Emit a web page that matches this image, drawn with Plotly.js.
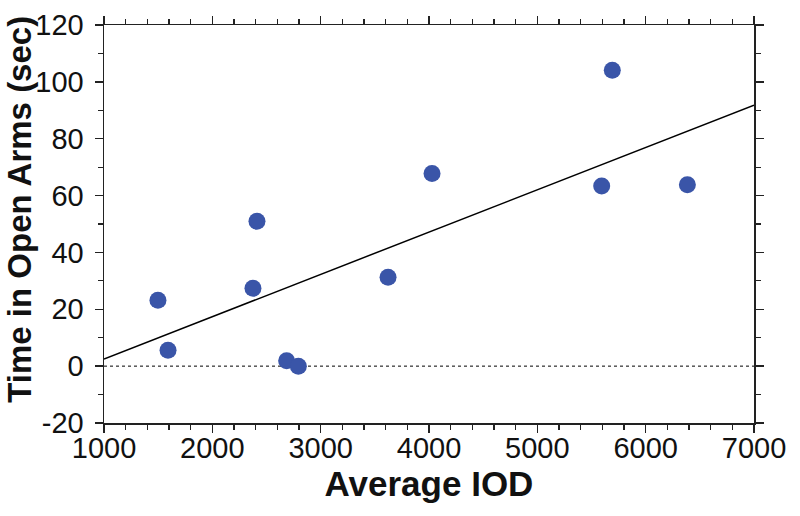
<!DOCTYPE html>
<html>
<head>
<meta charset="utf-8">
<script src="https://cdn.plot.ly/plotly-3.0.1.min.js"></script>
<style>
html,body{margin:0;padding:0;background:#fff;}
#chart{width:800px;height:516px;}
</style>
</head>
<body>
<div id="chart"></div>
<script>
// Data
const averageIOD = [1498, 1591, 2375, 2412, 2686, 2794, 3622, 4028, 5594, 5692, 6385];
const timeOpenArms = [23.2, 5.6, 27.4, 51.0, 1.9, 0.0, 31.3, 67.8, 63.4, 104.1, 63.8];

const xRange = [1000, 7000];
const yRange = [-20, 120];
const xTickVals = [1000, 2000, 3000, 4000, 5000, 6000, 7000];
const xTickText = ['1000', '2000', '3000', '4000', '5000', '6000', '7000'];
const yTickVals = [-20, 0, 20, 40, 60, 80, 100, 120];
const yTickText = ['-20', '0', '20', '40', '60', '80', '100', '120'];

// least-squares regression line
const n = averageIOD.length;
const mx = averageIOD.reduce((a, b) => a + b, 0) / n;
const my = timeOpenArms.reduce((a, b) => a + b, 0) / n;
let sxy = 0, sxx = 0;
for (let i = 0; i < n; i++) {
  sxy += (averageIOD[i] - mx) * (timeOpenArms[i] - my);
  sxx += (averageIOD[i] - mx) ** 2;
}
const slope = sxy / sxx;
const intercept = my - slope * mx;
const fitX = xRange.slice();
const fitY = fitX.map(x => intercept + slope * x);

const tickFont = {family: '"Liberation Sans", Arial, sans-serif', size: 29, color: '#111'};

const traces = [
  {x: fitX, y: fitY, type: 'scatter', mode: 'lines', line: {color: '#000', width: 1.5}, hoverinfo: 'skip', showlegend: false},
  {x: averageIOD, y: timeOpenArms, type: 'scatter', mode: 'markers',
   marker: {color: '#3a55a8', size: 17, line: {width: 0}}, showlegend: false}
];

const axisCommon = {
  showgrid: false, zeroline: false, showline: true, linecolor: '#222', linewidth: 1.5,
  mirror: 'ticks', ticks: 'outside', ticklen: 8, tickwidth: 1.5, tickcolor: '#222',
  tickfont: tickFont, fixedrange: true
};

const layout = {
  width: 800, height: 516,
  margin: {l: 104, r: 46, t: 25, b: 93},
  paper_bgcolor: '#fff', plot_bgcolor: '#fff',
  showlegend: false,
  xaxis: Object.assign({}, axisCommon, {
    range: xRange, tickmode: 'array', tickvals: xTickVals, ticktext: xTickText,
    minor: {dtick: 200, ticklen: 5, tickwidth: 1.2, tickcolor: '#222', ticks: 'outside', showgrid: false},
    ticklabelstandoff: -9,
    title: {text: 'Average IOD', font: {family: '"Liberation Sans", Arial, sans-serif', size: 35, weight: 'bold', color: '#111'}, standoff: 8}
  }),
  yaxis: Object.assign({}, axisCommon, {
    range: yRange, tickmode: 'array', tickvals: yTickVals, ticktext: yTickText,
    minor: {dtick: 10, ticklen: 5, tickwidth: 1.2, tickcolor: '#222', ticks: 'outside', showgrid: false},
    ticklabelstandoff: 5,
    title: {text: ''}
  }),
  shapes: [
    {type: 'line', xref: 'paper', x0: 0, x1: 1, yref: 'y', y0: 0, y1: 0, line: {color: '#000', width: 1, dash: 'dot'}, layer: 'below'}
  ],
  annotations: [
    {text: 'Time in Open Arms (sec)', textangle: -90, xref: 'paper', yref: 'paper',
     x: -0.13, y: 0.537, xanchor: 'center', yanchor: 'middle', showarrow: false,
     font: {family: '"Liberation Sans", Arial, sans-serif', size: 33, weight: 'bold', color: '#111'}}
  ]
};

Plotly.newPlot('chart', traces, layout, {displayModeBar: false, staticPlot: true});
</script>
</body>
</html>
